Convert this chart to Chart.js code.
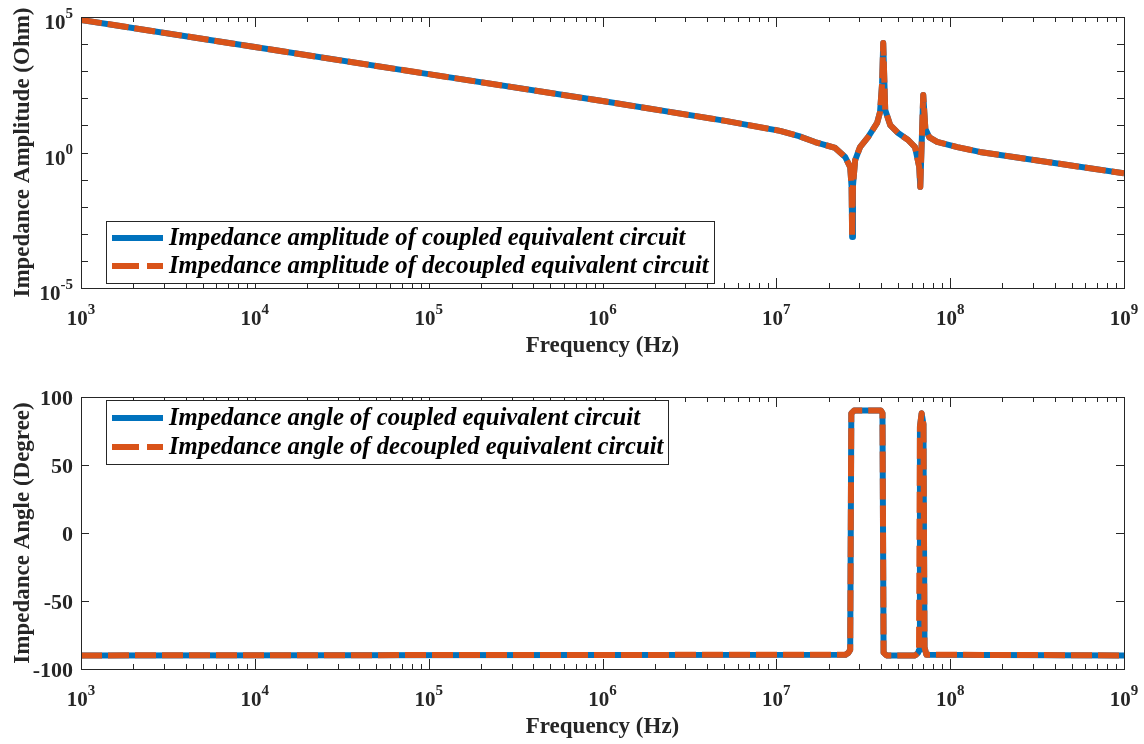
<!DOCTYPE html>
<html>
<head>
<meta charset="utf-8">
<style>
  html, body { margin: 0; padding: 0; background: #fff; }
  canvas { display: block; }
</style>
</head>
<body>
<canvas id="ampChart" width="1144" height="372"></canvas>
<canvas id="angChart" width="1144" height="372"></canvas>
<script src="https://cdn.jsdelivr.net/npm/chart.js"></script>
<script>

// impedance amplitude (Hz, Ohm)
const freqAmp = [1e3, 1e4, 1e5, 1e6, 5e6, 1.05e7, 1.35e7, 1.67e7, 2.18e7, 2.49e7, 2.66e7, 2.71e7,
  2.73e7, 2.76e7, 2.84e7, 3.03e7, 3.37e7, 3.80e7, 3.95e7, 4.06e7, 4.12e7, 4.23e7,
  4.52e7, 5.02e7, 5.73e7, 6.28e7, 6.64e7, 6.73e7, 7.0e7, 7.2e7, 7.6e7, 8.41e7, 1.1e8, 1.48e8, 1e9];
const ampCoupled = [7.8e4, 7.8e3, 780, 79, 15, 6.3, 4.0, 2.44, 1.47, 0.68, 0.29, 0.054,
  7.6e-4, 0.06, 0.52, 1.58, 3.7, 12.3, 31, 363, 1.1e4, 37,
  10.2, 5.2, 2.9, 1.58, 0.29, 0.054, 132, 7.5, 3.6, 2.45, 1.58, 1.05, 0.17];
// the decoupled circuit lies exactly on top of the coupled one
const ampDecoupled = [7.8e4, 7.8e3, 780, 79, 15, 6.3, 4.0, 2.44, 1.47, 0.68, 0.29, 0.054,
  7.6e-4, 0.06, 0.52, 1.58, 3.7, 12.3, 31, 363, 1.1e4, 37,
  10.2, 5.2, 2.9, 1.58, 0.29, 0.054, 132, 7.5, 3.6, 2.45, 1.58, 1.05, 0.17];

// impedance angle (Hz, degree)
const freqAng = [1e3, 2.5e7, 2.6e7, 2.66e7, 2.70e7, 2.8e7, 4.0e7, 4.08e7, 4.14e7, 4.3e7,
  6.3e7, 6.55e7, 6.62e7, 6.70e7, 6.85e7, 7.02e7, 7.12e7, 7.3e7, 1e9];
const angCoupled = [-90, -89.5, -88, -86, 88, 90, 90, 88, -88, -90,
  -90, -88, -86, 78, 88, 80, -84, -89.5, -90];
const angDecoupled = [-90, -89.5, -88, -86, 88, 90, 90, 88, -88, -90,
  -90, -88, -86, 78, 88, 80, -84, -89.5, -90];

// ticks
const xTickExp = [3, 4, 5, 6, 7, 8, 9];
const ampTickExp = [-5, -4, -3, -2, -1, 0, 1, 2, 3, 4, 5];
const ampLabelExp = [-5, 0, 5];
const angTicks = [-100, -50, 0, 50, 100];

const ampLegend = ['Impedance amplitude of coupled equivalent circuit',
  'Impedance amplitude of decoupled equivalent circuit'];
const angLegend = ['Impedance angle of coupled equivalent circuit',
  'Impedance angle of decoupled equivalent circuit'];

const BLUE = '#0072BD';
const ORANGE = '#D95319';
const AXIS = '#262626';
const SERIF = '"Liberation Serif", "Times New Roman", serif';

function pts(xs, ys) {
  return xs.map(function(x, i) { return { x: x, y: ys[i] }; });
}

function drawPow(ctx, x, y, exp, align) {
  // "10" with raised exponent, y = baseline of the "10"
  ctx.font = 'bold 21px ' + SERIF;
  const wb = ctx.measureText('10').width;
  ctx.font = 'bold 15px ' + SERIF;
  const we = ctx.measureText(String(exp)).width;
  let x0 = x - (wb + we) / 2;
  if (align === 'right') x0 = x - (wb + we);
  ctx.textAlign = 'left';
  ctx.textBaseline = 'alphabetic';
  ctx.font = 'bold 21px ' + SERIF;
  ctx.fillText('10', x0, y);
  ctx.font = 'bold 15px ' + SERIF;
  ctx.fillText(String(exp), x0 + wb, y - 11);
}

const matlabAxes = {
  id: 'matlabAxes',
  afterDraw(chart, args, o) {
    const ctx = chart.ctx;
    const a = chart.chartArea;
    const xs = chart.scales.x, ys = chart.scales.y;
    ctx.save();
    ctx.strokeStyle = AXIS;
    ctx.fillStyle = AXIS;
    ctx.lineWidth = 1;

    // box
    ctx.strokeRect(Math.round(a.left) + 0.5, Math.round(a.top) + 0.5,
      Math.round(a.right - a.left), Math.round(a.bottom - a.top));

    // x ticks, inward on bottom and top
    function xTick(px, len) {
      px = Math.round(px) + 0.5;
      ctx.beginPath();
      ctx.moveTo(px, a.bottom); ctx.lineTo(px, a.bottom - len);
      ctx.moveTo(px, a.top); ctx.lineTo(px, a.top + len);
      ctx.stroke();
    }
    xTickExp.forEach(function(e, i) {
      xTick(xs.getPixelForValue(Math.pow(10, e)), 10);
      if (i < xTickExp.length - 1) {
        for (let m = 2; m <= 9; m++) xTick(xs.getPixelForValue(m * Math.pow(10, e)), 5);
      }
      drawPow(ctx, xs.getPixelForValue(Math.pow(10, e)), a.bottom + 37, e, 'center');
    });

    // y ticks, inward on left and right
    function yTick(py, len) {
      py = Math.round(py) + 0.5;
      ctx.beginPath();
      ctx.moveTo(a.left, py); ctx.lineTo(a.left + len, py);
      ctx.moveTo(a.right, py); ctx.lineTo(a.right - len, py);
      ctx.stroke();
    }
    if (o.logY) {
      ampTickExp.forEach(function(e) { yTick(ys.getPixelForValue(Math.pow(10, e)), 7); });
      ampLabelExp.forEach(function(e) {
        drawPow(ctx, a.left - 8, ys.getPixelForValue(Math.pow(10, e)) + 12, e, 'right');
      });
    } else {
      ctx.font = 'bold 22px ' + SERIF;
      ctx.textAlign = 'right';
      ctx.textBaseline = 'alphabetic';
      angTicks.forEach(function(v) {
        yTick(ys.getPixelForValue(v), 8);
        ctx.fillText(String(v), a.left - 8, ys.getPixelForValue(v) + 8);
      });
    }

    // axis titles
    ctx.font = 'bold 23px ' + SERIF;
    ctx.textAlign = 'center';
    ctx.textBaseline = 'alphabetic';
    ctx.fillText('Frequency (Hz)', (a.left + a.right) / 2, a.bottom + 64);
    ctx.save();
    ctx.translate(29, (a.top + a.bottom) / 2);
    ctx.rotate(-Math.PI / 2);
    ctx.fillText(o.yTitle, 0, 0);
    ctx.restore();

    // legend
    const L = o.legend;
    ctx.fillStyle = '#fff';
    ctx.fillRect(L.x, L.y, L.w, L.h);
    ctx.strokeStyle = AXIS;
    ctx.strokeRect(L.x + 0.5, L.y + 0.5, L.w, L.h);
    ctx.lineWidth = 6;
    ctx.lineCap = 'butt';
    ctx.strokeStyle = BLUE;
    ctx.beginPath(); ctx.moveTo(L.x + 6, L.rows[0]); ctx.lineTo(L.x + 57, L.rows[0]); ctx.stroke();
    ctx.strokeStyle = ORANGE;
    ctx.setLineDash([27, 8]);
    ctx.beginPath(); ctx.moveTo(L.x + 6, L.rows[1]); ctx.lineTo(L.x + 57, L.rows[1]); ctx.stroke();
    ctx.setLineDash([]);
    ctx.fillStyle = '#000';
    ctx.font = 'italic bold 24.7px ' + SERIF;
    ctx.textAlign = 'left';
    ctx.textBaseline = 'middle';
    L.labels.forEach(function(t, i) { ctx.fillText(t, L.x + 63, L.rows[i] + 1); });
    ctx.restore();
  }
};

function makeChart(id, xsData, s1, s2, yScale, pad, opts) {
  return new Chart(id, {
    type: 'line',
    data: {
      datasets: [
        // order 1 -> drawn underneath, order 0 -> dashed line on top
        { label: opts.legend.labels[0], data: pts(xsData, s1), borderColor: BLUE, order: 1,
          borderWidth: 6, pointRadius: 0, tension: 0, borderJoinStyle: 'round' },
        { label: opts.legend.labels[1], data: pts(xsData, s2), borderColor: ORANGE, order: 0,
          borderWidth: 6, pointRadius: 0, tension: 0, borderDash: [21, 6],
          borderJoinStyle: 'round' }
      ]
    },
    options: {
      responsive: false,
      animation: false,
      devicePixelRatio: 1,
      layout: { padding: pad },
      plugins: { legend: { display: false }, tooltip: { enabled: false }, matlabAxes: opts },
      scales: {
        x: { type: 'logarithmic', min: 1e3, max: 1e9, display: false },
        y: Object.assign({ display: false }, yScale)
      }
    },
    plugins: [matlabAxes]
  });
}

makeChart('ampChart', freqAmp, ampCoupled, ampDecoupled,
  { type: 'logarithmic', min: 1e-5, max: 1e5 },
  { left: 81, top: 17, right: 20, bottom: 84 },
  { logY: true, yTitle: 'Impedance Amplitude (Ohm)',
    legend: { x: 106, y: 221, w: 608, h: 62, rows: [238, 266], labels: ampLegend } });

makeChart('angChart', freqAng, angCoupled, angDecoupled,
  { type: 'linear', min: -100, max: 100 },
  { left: 81, top: 25, right: 20, bottom: 75 },
  { logY: false, yTitle: 'Impedance Angle (Degree)',
    legend: { x: 106, y: 28, w: 562, h: 64, rows: [46, 75], labels: angLegend } });

</script>
</body>
</html>
